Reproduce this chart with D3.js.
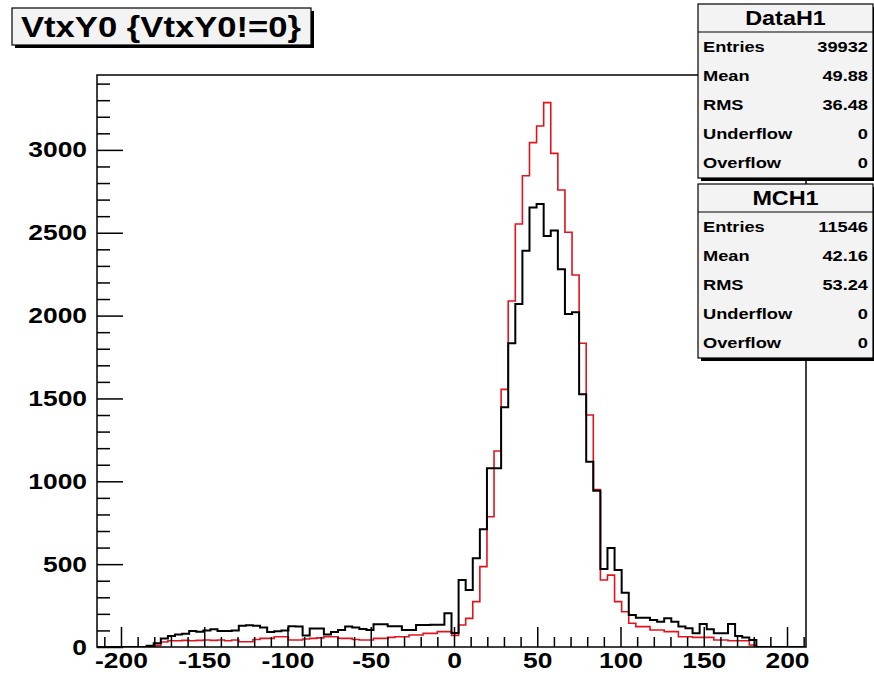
<!DOCTYPE html>
<html>
<head>
<meta charset="utf-8">
<script src="https://cdn.jsdelivr.net/npm/d3@7"></script>
<style>
  body { margin: 0; background: #fff; }
  svg { display: block; font-family: "Liberation Sans", Arial, sans-serif; font-weight: bold; }
</style>
</head>
<body>
<svg id="chart" width="874" height="674"></svg>
<script>
// histogram binning (TTree::Draw auto range, 100 bins)
const xMin = -214.4, xMax = 211.4, nBins = 100;
const yMax = 3452;

// black: data
const dataCounts = [
  0, 0, 0, 0, 0, 0, 0, 8, 22, 52,
  66, 76, 80, 97, 92, 100, 107, 97, 97, 100,
  128, 132, 128, 118, 90, 95, 100, 125, 123, 70,
  112, 112, 75, 90, 103, 123, 118, 108, 103, 137,
  137, 125, 125, 103, 103, 133, 133, 135, 135, 203,
  85, 404, 344, 535, 710, 1078, 1078, 1447, 1833, 2070,
  2392, 2653, 2673, 2480, 2513, 2280, 2010, 2020, 1525, 1118,
  943, 470, 597, 465, 328, 193, 177, 177, 163, 153,
  173, 153, 123, 113, 83, 139, 107, 83, 83, 139,
  66, 58, 42, 0, 0, 0, 0, 0, 0, 0
];

// red: MC
const mcCounts = [
  0, 0, 0, 0, 0, 0, 0, 2, 10, 30,
  38, 38, 40, 38, 40, 42, 40, 42, 38, 42,
  32, 32, 45, 52, 52, 62, 62, 42, 42, 48,
  52, 55, 62, 62, 52, 52, 45, 42, 42, 52,
  52, 58, 62, 62, 72, 72, 82, 82, 93, 93,
  70, 133, 173, 274, 485, 786, 1183, 1555, 2088, 2553,
  2844, 3044, 3144, 3285, 2979, 2758, 2503, 2245, 1833, 1400,
  950, 404, 434, 274, 213, 143, 123, 123, 103, 103,
  93, 93, 62, 62, 58, 58, 58, 42, 42, 38,
  38, 38, 12, 0, 0, 0, 0, 0, 0, 0
];

const title = "VtxY0 {VtxY0!=0}";
const statLabels = ["Entries", "Mean", "RMS", "Underflow", "Overflow"];
const dataStats = ["39932", "49.88", "36.48", "0", "0"];
const mcStats = ["11546", "42.16", "53.24", "0", "0"];

const xMajor = [-200, -150, -100, -50, 0, 50, 100, 150, 200];
const xMinor = d3.range(-210, 211, 10).filter(v => v % 50 !== 0);
const yMajor = [0, 500, 1000, 1500, 2000, 2500, 3000];
const yMinor = d3.range(100, 3500, 100).filter(v => v % 500 !== 0);

const svg = d3.select("#chart");
const frame = { left: 97, right: 806, top: 75, bottom: 647 };
const stretch = 1.2; // glyphs in the picture are wider than Liberation Sans

const x = d3.scaleLinear().domain([xMin, xMax]).range([frame.left, frame.right]);
const y = d3.scaleLinear().domain([0, yMax]).range([frame.bottom, frame.top]);

svg.append("defs").append("clipPath").attr("id", "frameClip")
  .append("rect")
  .attr("x", frame.left).attr("y", frame.top)
  .attr("width", frame.right - frame.left).attr("height", frame.bottom - frame.top);

// step outline for a histogram
const edges = d3.range(nBins + 1).map(i => xMin + i * (xMax - xMin) / nBins);
function stepPoints(counts) {
  let pts = [[edges[0], 0]];
  counts.forEach((c, i) => {
    pts.push([edges[i], c]);
    pts.push([edges[i + 1], c]);
  });
  pts.push([edges[nBins], 0]);
  return pts;
}
const line = d3.line().x(d => x(d[0])).y(d => y(d[1]));

const plot = svg.append("g").attr("clip-path", "url(#frameClip)");
plot.append("path")
  .attr("d", line(stepPoints(mcCounts)))
  .attr("fill", "none").attr("stroke", "#e0141e").attr("stroke-width", 1.6);
plot.append("path")
  .attr("d", line(stepPoints(dataCounts)))
  .attr("fill", "none").attr("stroke", "#000").attr("stroke-width", 2);

// axes (ticks point into the frame, as in ROOT); plain hyphen for negatives
const plain = d => String(d);

const gx = svg.append("g").attr("transform", `translate(0,${frame.bottom})`);
gx.call(d3.axisBottom(x).tickValues(xMajor).tickSize(-20).tickSizeOuter(0).tickPadding(5).tickFormat(plain));
const gxMinor = svg.append("g").attr("transform", `translate(0,${frame.bottom})`);
gxMinor.call(d3.axisBottom(x).tickValues(xMinor).tickSize(-10).tickSizeOuter(0).tickFormat(""));

const gy = svg.append("g").attr("transform", `translate(${frame.left},0)`);
gy.call(d3.axisLeft(y).tickValues(yMajor).tickSize(-26).tickSizeOuter(0).tickPadding(11).tickFormat(plain));
const gyMinor = svg.append("g").attr("transform", `translate(${frame.left},0)`);
gyMinor.call(d3.axisLeft(y).tickValues(yMinor).tickSize(-13).tickSizeOuter(0).tickFormat(""));

svg.selectAll(".domain").remove();
svg.selectAll(".tick line").attr("stroke", "#000").attr("stroke-width", 1.5);
svg.selectAll(".tick text")
  .attr("font-family", "Liberation Sans, Arial, sans-serif")
  .attr("font-weight", "bold")
  .attr("font-size", 22)
  .attr("fill", "#000")
  .attr("transform", `scale(${stretch},1)`);
gy.selectAll(".tick text").attr("x", -10 / stretch);

svg.append("rect")
  .attr("x", frame.left).attr("y", frame.top)
  .attr("width", frame.right - frame.left).attr("height", frame.bottom - frame.top)
  .attr("fill", "none").attr("stroke", "#000").attr("stroke-width", 1.5);

// boxes with the ROOT drop shadow
function shadowBox(x0, y0, w, h) {
  svg.append("rect").attr("x", x0 + 3).attr("y", y0 + 3).attr("width", w).attr("height", h).attr("fill", "#000");
  svg.append("rect").attr("x", x0).attr("y", y0).attr("width", w).attr("height", h)
    .attr("fill", "#f3f3f3").attr("stroke", "#000").attr("stroke-width", 1.2);
}

function stretchedText(str, tx, ty, size, anchor) {
  return svg.append("text")
    .attr("transform", `translate(${tx},${ty}) scale(${stretch},1)`)
    .attr("text-anchor", anchor)
    .attr("dominant-baseline", "central")
    .attr("font-size", size)
    .text(str);
}

// title
shadowBox(12, 8, 299, 37);
svg.append("text")
  .attr("x", 161).attr("y", 27)
  .attr("text-anchor", "middle").attr("dominant-baseline", "central")
  .attr("font-size", 29)
  .attr("textLength", 280).attr("lengthAdjust", "spacingAndGlyphs")
  .text(title);

// stat boxes
function statBox(name, values, y0) {
  const x0 = 698, w = 175, head = 28, row = 29.2;
  shadowBox(x0, y0, w, head + row * 5);
  svg.append("line").attr("x1", x0).attr("x2", x0 + w)
    .attr("y1", y0 + head).attr("y2", y0 + head)
    .attr("stroke", "#000").attr("stroke-width", 1.2);
  stretchedText(name, x0 + w / 2, y0 + head / 2 + 1, 19.5, "middle");
  statLabels.forEach((lab, i) => {
    const cy = y0 + head + row * (i + 0.5);
    stretchedText(lab, x0 + 5, cy, 15.2, "start");
    stretchedText(values[i], x0 + w - 5, cy, 15.2, "end");
  });
}
statBox("DataH1", dataStats, 4);
statBox("MCH1", mcStats, 184);
</script>
</body>
</html>
